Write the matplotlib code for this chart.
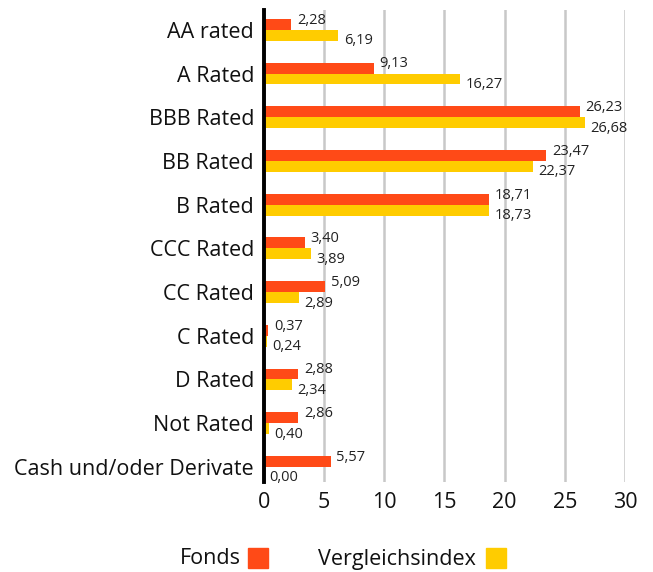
import matplotlib.pyplot as plt
import numpy as np
from matplotlib.patches import Rectangle

plt.rcParams['font.family'] = ['Open Sans', 'DejaVu Sans']

categories = ["AA rated", "A Rated", "BBB Rated", "BB Rated", "B Rated", "CCC Rated",
              "CC Rated", "C Rated", "D Rated", "Not Rated", "Cash und/oder Derivate"]
fonds = [2.28, 9.13, 26.23, 23.47, 18.71, 3.40, 5.09, 0.37, 2.88, 2.86, 5.57]
index = [6.19, 16.27, 26.68, 22.37, 18.73, 3.89, 2.89, 0.24, 2.34, 0.40, 0.00]

c_fonds = '#ff4a17'
c_index = '#ffcc00'

fig = plt.figure(figsize=(6.53, 5.72), dpi=100)
ax = fig.add_axes([0.404, 0.157, 0.553, 0.826])

y = np.arange(len(categories))
h = 0.25
ax.barh(y - h / 2, fonds, height=h, color=c_fonds, zorder=3)
ax.barh(y + h / 2, index, height=h, color=c_index, zorder=3)

def fmt(v):
    return f"{v:.2f}".replace('.', ',')

for yi, f, ix in zip(y, fonds, index):
    ax.annotate(fmt(f), (f, yi - h / 2), xytext=(4, 3), textcoords='offset points',
                va='center', ha='left', fontsize=10.5, color='#222222')
    ax.annotate(fmt(ix), (ix, yi + h / 2), xytext=(4, -4), textcoords='offset points',
                va='center', ha='left', fontsize=10.5, color='#222222')

ax.set_xlim(0, 30)
ax.set_ylim(10.35, -0.46)
ax.set_xticks([0, 5, 10, 15, 20, 25, 30])
ax.set_yticks(y)
ax.set_yticklabels(categories)
ax.tick_params(axis='both', length=0, labelsize=15.5, colors='#111111')
ax.tick_params(axis='y', pad=7)
ax.tick_params(axis='x', pad=7)
ax.grid(axis='x', color='#c8c8c8', linewidth=1.8, zorder=0)
for s in ax.spines.values():
    s.set_visible(False)
ax.axvline(0, color='black', linewidth=2.8, zorder=4, clip_on=False)

# legend at bottom
fig.text(180 / 653, 1 - 559 / 572, "Fonds", fontsize=15.5, va='center', ha='left', color='#111111')
fig.patches.append(Rectangle((248 / 653, 1 - 568 / 572), 20 / 653, 20 / 572,
                             transform=fig.transFigure, color=c_fonds))
fig.text(318 / 653, 1 - 559 / 572, "Vergleichsindex", fontsize=15.5, va='center', ha='left', color='#111111')
fig.patches.append(Rectangle((486 / 653, 1 - 568 / 572), 20 / 653, 20 / 572,
                             transform=fig.transFigure, color=c_index))

fig.savefig("out.png", dpi=100)
